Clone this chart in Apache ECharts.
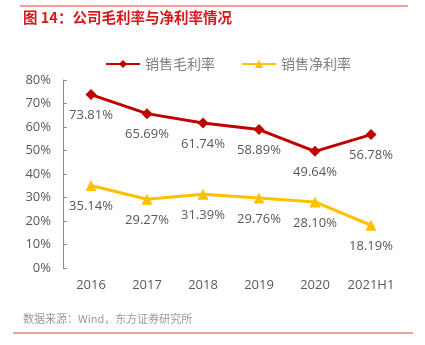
<!DOCTYPE html>
<html><head><meta charset="utf-8">
<script src="https://cdn.jsdelivr.net/npm/echarts@6/dist/echarts.min.js"></script>
<style>html,body{margin:0;padding:0;background:#fff}#c{width:425px;height:345px}</style>
</head><body><div id="c"></div>
<script>
const categories = ['2016','2017','2018','2019','2020','2021H1'];
const grossMargin = [73.81, 65.69, 61.74, 58.89, 49.64, 56.78];
const netMargin = [35.14, 29.27, 31.39, 29.76, 28.10, 18.19];
const seriesNames = ['销售毛利率','销售净利率'];
const titleText = '图 14：公司毛利率与净利率情况';
const sourceText = '数据来源：Wind，东方证券研究所';

const chart = echarts.init(document.getElementById('c'));
const fontFamily = '"Noto Sans CJK SC", "Open Sans", sans-serif';
const labelCfg = {
  show: true, position: 'bottom', distance: 9, color: '#595959',
  fontSize: 13, fontFamily: '"Open Sans", "Noto Sans CJK SC", sans-serif',
  formatter: p => p.value.toFixed(2) + '%'
};
chart.setOption({
  backgroundColor: '#fff',
  animation: false,
  graphic: [
    {type:'line', shape:{x1:20,y1:6,x2:408,y2:6}, style:{stroke:'#E5383B', lineWidth:1}},
    {type:'text', left:23, top:10, style:{text:titleText, fill:'#D7191C', font:'bold 14.5px ' + fontFamily}},
    {type:'text', left:23, top:313, style:{text:sourceText, fill:'#9A9A9A', font:'11px ' + fontFamily}},
    {type:'line', shape:{x1:13,y1:333,x2:413,y2:333}, style:{stroke:'#E5383B', lineWidth:1}}
  ],
  legend: {
    top: 52, left: 100,
    itemWidth: 34, itemHeight: 10, itemGap: 26,
    textStyle: {color:'#7F7F7F', fontSize:14, fontFamily: fontFamily},
    data: seriesNames
  },
  grid: {left: 63, right: 26, top: 80, bottom: 77},
  xAxis: {
    type: 'category', data: categories, boundaryGap: true,
    axisLine: {show: false}, axisTick: {show: false},
    axisLabel: {color:'#595959', fontSize:13, margin: 11, interval: 0, fontFamily:'"Open Sans", sans-serif'}
  },
  yAxis: {
    type: 'value', min: 0, max: 80, interval: 10,
    axisLine: {show: true, lineStyle:{color:'#8C8C8C'}},
    axisTick: {show: true, inside: true, length: 4, lineStyle:{color:'#8C8C8C'}},
    splitLine: {show: false},
    axisLabel: {color:'#595959', fontSize:13, margin: 12, formatter: '{value}%', fontFamily:'"Open Sans", sans-serif'}
  },
  series: [
    {name: seriesNames[0], type:'line', data: grossMargin, symbol:'diamond', symbolSize: 11,
     itemStyle:{color:'#C00000'}, lineStyle:{color:'#C00000', width:3}, label: labelCfg},
    {name: seriesNames[1], type:'line', data: netMargin, symbol:'triangle', symbolSize: 11,
     itemStyle:{color:'#FFC000'}, lineStyle:{color:'#FFC000', width:3}, label: labelCfg}
  ]
});
</script></body></html>
